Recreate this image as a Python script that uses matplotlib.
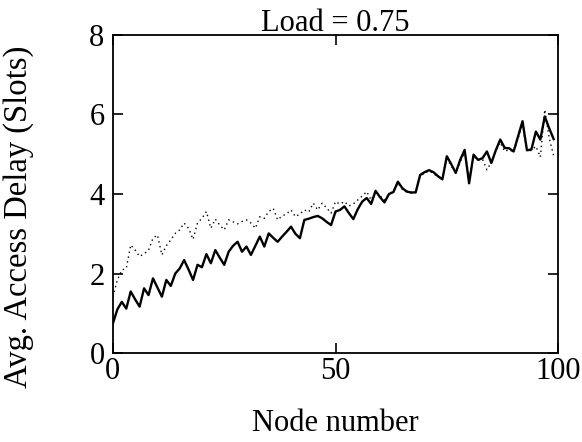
import numpy as np
import matplotlib.pyplot as plt

plt.rcParams['font.family'] = ['Liberation Serif', 'DejaVu Serif']

# node index 0..99
nodes = np.arange(100)

# average access delay per node, two protocols (solid / dotted)
delay_solid = [
    0.75, 1.10, 1.29, 1.12, 1.55, 1.35, 1.17, 1.63, 1.46, 1.88,
    1.65, 1.42, 1.84, 1.69, 2.00, 2.13, 2.34, 2.10, 1.84, 2.22,
    2.16, 2.49, 2.26, 2.59, 2.40, 2.22, 2.55, 2.70, 2.80, 2.55,
    2.68, 2.47, 2.70, 2.93, 2.68, 3.01, 2.90, 2.80, 2.93, 3.05,
    3.18, 3.00, 2.89, 3.35, 3.38, 3.42, 3.45, 3.39, 3.30, 3.22,
    3.56, 3.60, 3.69, 3.52, 3.37, 3.62, 3.81, 3.90, 3.75, 4.08,
    3.92, 3.79, 4.00, 4.05, 4.31, 4.15, 4.06, 4.04, 4.04, 4.48,
    4.55, 4.60, 4.55, 4.45, 4.37, 4.95, 4.75, 4.53, 4.86, 5.11,
    4.27, 4.99, 4.86, 4.90, 5.07, 4.78, 5.10, 5.37, 5.16, 5.15,
    5.07, 5.45, 5.83, 5.10, 5.12, 5.57, 5.37, 5.95, 5.65, 5.38,
]

delay_dotted = [
    1.42, 1.84, 2.09, 2.13, 2.72, 2.59, 2.43, 2.50, 2.59, 2.89,
    2.97, 2.47, 2.70, 2.85, 3.01, 3.10, 3.27, 3.14, 2.86, 3.27,
    3.39, 3.56, 3.14, 3.37, 3.22, 3.10, 3.35, 3.30, 3.25, 3.31,
    3.35, 3.27, 3.14, 3.43, 3.39, 3.56, 3.64, 3.35, 3.45, 3.50,
    3.60, 3.43, 3.50, 3.60, 3.55, 3.77, 3.60, 3.77, 3.65, 3.52,
    3.81, 3.75, 3.81, 3.70, 3.75, 3.85, 3.95, 4.06, 3.85, 4.06,
    3.95, 3.85, 4.00, 4.08, 4.28, 4.12, 4.08, 4.02, 4.06, 4.45,
    4.52, 4.58, 4.52, 4.42, 4.40, 4.90, 4.70, 4.55, 4.80, 5.05,
    4.35, 4.95, 4.85, 4.88, 4.61, 4.80, 5.08, 5.30, 5.07, 5.12,
    5.05, 5.40, 5.75, 5.07, 5.10, 5.20, 4.93, 6.12, 5.40, 4.96,
]

x_ticks = [0, 50, 100]
y_ticks = [0, 2, 4, 6, 8]

fig = plt.figure(figsize=(5.82, 4.42), dpi=100)
ax = fig.add_axes([0.194, 0.201, 0.765, 0.720])

ax.plot(nodes, delay_dotted, color='black', linewidth=1.0, linestyle=(0, (1, 2.5)))
ax.plot(nodes, delay_solid, color='black', linewidth=1.7)

ax.set_xlim(0, 100)
ax.set_ylim(0, 8)
ax.set_xticks(x_ticks)
ax.set_yticks(y_ticks)
ax.tick_params(direction='in', length=7, width=1.2, top=True, right=True,
               labelsize=22)
ax.tick_params(axis='x', pad=3)
ax.tick_params(axis='y', pad=6)
for side in ax.spines.values():
    side.set_linewidth(1.3)

ax.set_title('Load = 0.75', fontsize=22, pad=3)
ax.set_xlabel('Node number', fontsize=22, labelpad=16)
ax.set_ylabel('Avg. Access Delay (Slots)', fontsize=23.5)
ax.yaxis.set_label_coords(-0.178, 0.43)

fig.savefig('out.png', dpi=100)
